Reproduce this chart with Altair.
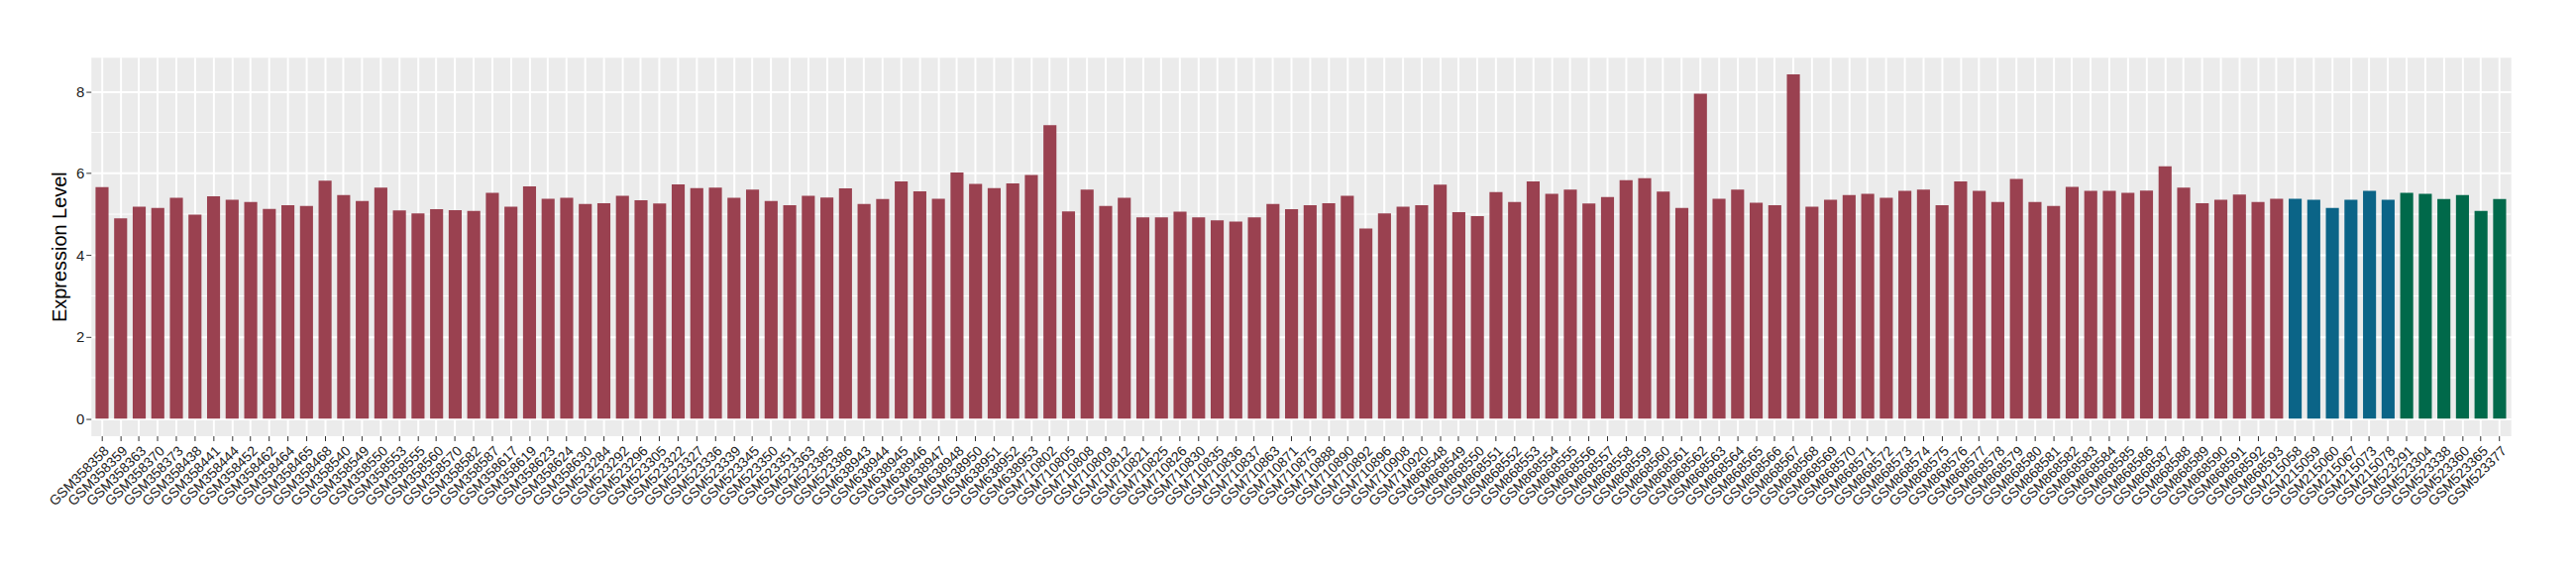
import altair as alt
import pandas as pd

samples = [
    "GSM358358", "GSM358359", "GSM358363", "GSM358370", "GSM358373", "GSM358438",
    "GSM358441", "GSM358444", "GSM358452", "GSM358462", "GSM358464", "GSM358465",
    "GSM358468", "GSM358540", "GSM358549", "GSM358550", "GSM358553", "GSM358555",
    "GSM358560", "GSM358570", "GSM358582", "GSM358587", "GSM358617", "GSM358619",
    "GSM358623", "GSM358624", "GSM358630",
    "GSM523284", "GSM523292", "GSM523296", "GSM523305", "GSM523322", "GSM523327",
    "GSM523336", "GSM523339", "GSM523345", "GSM523350", "GSM523351", "GSM523363",
    "GSM523385", "GSM523386",
    "GSM638943", "GSM638944", "GSM638945", "GSM638946", "GSM638947", "GSM638948",
    "GSM638950", "GSM638951", "GSM638952", "GSM638953",
    "GSM710802", "GSM710805", "GSM710808", "GSM710809", "GSM710812", "GSM710821",
    "GSM710825", "GSM710826", "GSM710830", "GSM710835", "GSM710836", "GSM710837",
    "GSM710863", "GSM710871", "GSM710875", "GSM710888", "GSM710890", "GSM710892",
    "GSM710896", "GSM710908", "GSM710920",
    "GSM868548", "GSM868549", "GSM868550", "GSM868551", "GSM868552", "GSM868553",
    "GSM868554", "GSM868555", "GSM868556", "GSM868557", "GSM868558", "GSM868559",
    "GSM868560", "GSM868561", "GSM868562", "GSM868563", "GSM868564", "GSM868565",
    "GSM868566", "GSM868567", "GSM868568", "GSM868569", "GSM868570", "GSM868571",
    "GSM868572", "GSM868573", "GSM868574", "GSM868575", "GSM868576", "GSM868577",
    "GSM868578", "GSM868579", "GSM868580", "GSM868581", "GSM868582", "GSM868583",
    "GSM868584", "GSM868585", "GSM868586", "GSM868587", "GSM868588", "GSM868589",
    "GSM868590", "GSM868591", "GSM868592", "GSM868593",
    "GSM215058", "GSM215059", "GSM215060", "GSM215067", "GSM215073", "GSM215078",
    "GSM523291", "GSM523304", "GSM523338", "GSM523360", "GSM523365", "GSM523377",
]

values = [
    5.66, 4.90, 5.18, 5.15, 5.40, 4.99, 5.44, 5.35, 5.30, 5.13, 5.22, 5.20,
    5.82, 5.47, 5.32, 5.65, 5.09, 5.02, 5.12, 5.10, 5.08, 5.52, 5.18, 5.68,
    5.38, 5.40, 5.25,
    5.27, 5.45, 5.34, 5.26, 5.73, 5.64, 5.65, 5.40, 5.60, 5.32, 5.22, 5.45,
    5.41, 5.63,
    5.25, 5.37, 5.80, 5.56, 5.38, 6.02, 5.74, 5.64, 5.75, 5.96,
    7.18, 5.07, 5.60, 5.20, 5.40, 4.92, 4.92, 5.06, 4.92, 4.85, 4.82, 4.92,
    5.25, 5.12, 5.22, 5.27, 5.45, 4.65, 5.02, 5.18, 5.22,
    5.72, 5.05, 4.95, 5.54, 5.30, 5.80, 5.50, 5.60, 5.26, 5.42, 5.83, 5.88,
    5.55, 5.15, 7.95, 5.38, 5.60, 5.28, 5.22, 8.42, 5.18, 5.35, 5.47, 5.50,
    5.40, 5.57, 5.60, 5.22, 5.80, 5.57, 5.30, 5.86, 5.30, 5.20, 5.67, 5.57,
    5.57, 5.52, 5.58, 6.17, 5.65, 5.27, 5.35, 5.48, 5.30, 5.38,
    5.38, 5.35, 5.15, 5.35, 5.57, 5.35,
    5.52, 5.50, 5.37, 5.47, 5.08, 5.37,
]

group_names = ["Group 1", "Group 2", "Group 3"]
group_sizes = [118, 6, 6]
group_colors = ["#9A4150", "#0B6487", "#00694A"]

groups = []
for name, size in zip(group_names, group_sizes):
    groups += [name] * size

minor_grid = [1, 3, 5, 7]
major_ticks = [0, 2, 4, 6, 8]

df = pd.DataFrame({"sample": samples, "value": values, "group": groups})
minor_df = pd.DataFrame({"v": minor_grid})

yscale = alt.Scale(domain=[-0.421, 8.841], nice=False, zero=False)

minor = alt.Chart(minor_df).mark_rule(color="white", strokeWidth=1).encode(
    y=alt.Y("v:Q", scale=yscale)
)

bars = alt.Chart(df).mark_bar().encode(
    x=alt.X(
        "sample:N",
        sort=None,
        scale=alt.Scale(paddingInner=0.3, paddingOuter=0.25),
        axis=alt.Axis(
            title=None,
            labelAngle=315,
            labelAlign="right",
            labelBaseline="top",
            labelFontSize=14,
            labelColor="#222222",
            labelPadding=3,
            labelOverlap=False,
            tickColor="#333333",
            tickSize=5,
            grid=True,
            gridColor="white",
            gridWidth=2,
            bandPosition=0.5,
            domain=False,
        ),
    ),
    y=alt.Y(
        "value:Q",
        scale=yscale,
        axis=alt.Axis(
            title="Expression Level",
            titleFontSize=20,
            titleFontWeight="normal",
            titleColor="black",
            titlePadding=6,
            values=major_ticks,
            labelFontSize=15,
            labelColor="#222222",
            labelPadding=2,
            tickColor="#333333",
            tickSize=5,
            grid=True,
            gridColor="white",
            gridWidth=2,
            domain=False,
        ),
    ),
    y2=alt.datum(0),
    color=alt.Color(
        "group:N",
        scale=alt.Scale(domain=group_names, range=group_colors),
        legend=None,
    ),
)

chart = (
    alt.layer(minor, bars)
    .properties(
        width=2450,
        height=383,
        autosize=alt.AutoSizeParams(type="none"),
        padding={"left": 84, "top": 49, "right": 58, "bottom": 120},
    )
    .configure(font="Liberation Sans")
    .configure_view(fill="#EBEBEB", strokeOpacity=0)
)

chart.save("out.html", embed_options={"renderer": "svg", "actions": False})
